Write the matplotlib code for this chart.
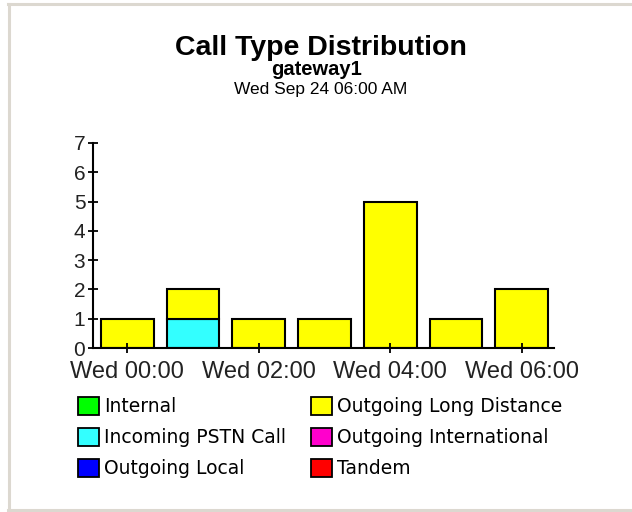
import matplotlib
matplotlib.use("Agg")
import matplotlib.pyplot as plt
from matplotlib.patches import Patch
from matplotlib.lines import Line2D
import numpy as np

# -----------------------------
# DATA
# -----------------------------
hours = ["Wed 00:00", "Wed 01:00", "Wed 02:00", "Wed 03:00",
         "Wed 04:00", "Wed 05:00", "Wed 06:00"]
series_names = ["Internal", "Incoming PSTN Call", "Outgoing Local",
                "Outgoing Long Distance", "Outgoing International", "Tandem"]
internal = [0, 0, 0, 0, 0, 0, 0]
incoming_pstn = [0, 1, 0, 0, 0, 0, 0]
outgoing_local = [0, 0, 0, 0, 0, 0, 0]
outgoing_long = [1, 1, 1, 1, 5, 1, 2]
outgoing_intl = [0, 0, 0, 0, 0, 0, 0]
tandem = [0, 0, 0, 0, 0, 0, 0]
y_ticks = [0, 1, 2, 3, 4, 5, 6, 7]

colors = ["#00ff00", "#33ffff", "#0000ff", "#ffff00", "#ff00cc", "#ff0000"]

# -----------------------------
# FIGURE
# -----------------------------
W, H = 632, 512
fig = plt.figure(figsize=(W / 100, H / 100), dpi=100)
fig.patch.set_facecolor("white")

# light frame around the panel
frame_col = "#dcd8d0"
fig.add_artist(Line2D([8 / W, 1], [1 - 4 / H, 1 - 4 / H], color=frame_col, lw=2.2))
fig.add_artist(Line2D([8.5 / W, 8.5 / W], [1 - 4 / H, 1 - 510 / H], color=frame_col, lw=2.2))
fig.add_artist(Line2D([8 / W, 1], [1 - 510 / H, 1 - 510 / H], color=frame_col, lw=2.2))

ax = fig.add_axes([93 / W, 1 - 348 / H, (554 - 93) / W, (348 - 143) / H])

x = np.arange(len(hours))
all_series = [internal, incoming_pstn, outgoing_local, outgoing_long, outgoing_intl, tandem]
bottom = np.zeros(len(hours))
for vals, col in zip(all_series, colors):
    vals = np.array(vals, dtype=float)
    nz = vals > 0
    if nz.any():
        ax.bar(x[nz], vals[nz], width=0.8, bottom=bottom[nz], color=col,
               edgecolor="black", linewidth=1.5)
    bottom += vals

ax.set_xlim(-0.52, 6.49)
ax.set_ylim(0, 7)
ax.set_xticks(x[::2])
ax.set_xticklabels(hours[::2])
ax.set_yticks(y_ticks)

for s in ["top", "right"]:
    ax.spines[s].set_visible(False)
for s in ["left", "bottom"]:
    ax.spines[s].set_linewidth(1.5)

ax.tick_params(axis="x", direction="inout", length=6.5, width=1.3, pad=6,
               labelsize=17)
ax.tick_params(axis="y", direction="inout", length=7, width=1.3, pad=2,
               labelsize=15)
for lab in ax.get_xticklabels() + ax.get_yticklabels():
    lab.set_family("Liberation Sans")
    lab.set_color("#222222")

# -----------------------------
# TITLES
# -----------------------------
cx = 321 / W
fig.text(cx, 1 - 55 / H, "Call Type Distribution", ha="center", va="baseline",
         fontsize=20.5, fontweight="bold", family="Liberation Sans")
fig.text(cx - 4 / W, 1 - 75 / H, "gateway1", ha="center", va="baseline",
         fontsize=14.5, fontweight="bold", family="Liberation Sans")
fig.text(cx, 1 - 94 / H, "Wed Sep 24 06:00 AM", ha="center", va="baseline",
         fontsize=12.5, family="Liberation Sans")

# -----------------------------
# LEGEND (two columns)
# -----------------------------
handles = [Patch(facecolor=c, edgecolor="black", linewidth=1.3) for c in colors]
for lx, idx in [(78, [0, 1, 2]), (311, [3, 4, 5])]:
    fig.legend([handles[i] for i in idx], [series_names[i] for i in idx],
               loc="upper left", bbox_to_anchor=(lx / W, 1 - 397 / H),
               frameon=False, borderpad=0, borderaxespad=0,
               handlelength=1.1, handleheight=1.1, handletextpad=0.3,
               labelspacing=0.62, prop={"family": "DejaVu Sans", "size": 13.5})

fig.savefig("out.png", dpi=100)
